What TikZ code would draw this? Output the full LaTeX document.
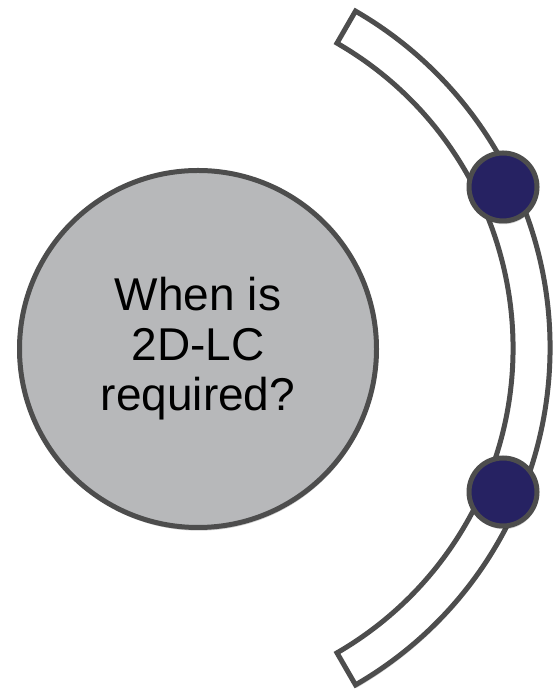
\documentclass[tikz,border=0pt]{standalone}
\usepackage{fontspec}
\setmainfont{Liberation Sans}
\usetikzlibrary{shadows}
\definecolor{rim}{HTML}{4D4D4D}
\definecolor{disc}{HTML}{B7B8BA}
\definecolor{navy}{HTML}{262262}

\begin{document}
\begin{tikzpicture}[x=0.75pt,y=0.75pt,line width=3.75pt,
  soft/.style={drop shadow={shadow xshift=0.6pt,shadow yshift=-2.4pt,opacity=0.18,fill=black}},
  topic/.style={circle,draw=rim,fill=disc,soft,minimum size=267.75pt,inner sep=0pt,align=center,
    font=\fontsize{34.5}{37.5}\selectfont},
  bullet/.style={circle,draw=rim,fill=navy,soft,minimum size=51pt,inner sep=0pt}]
\useasboundingbox (0,0) rectangle (553,691);
\coordinate (hub) at (161,343);
\draw[rim,fill=white,soft] ([shift={(hub)}]60:352) arc[start angle=60,end angle=-60,radius=352]
  -- ([shift={(hub)}]-60:389) arc[start angle=-60,end angle=60,radius=389] -- cycle;
\node[topic] (question) at (198,342) {When is\\2D-LC\\required?};
\node[bullet] (dot1) at (503,504) {};
\node[bullet] (dot2) at (503,199) {};
\end{tikzpicture}
\end{document}
